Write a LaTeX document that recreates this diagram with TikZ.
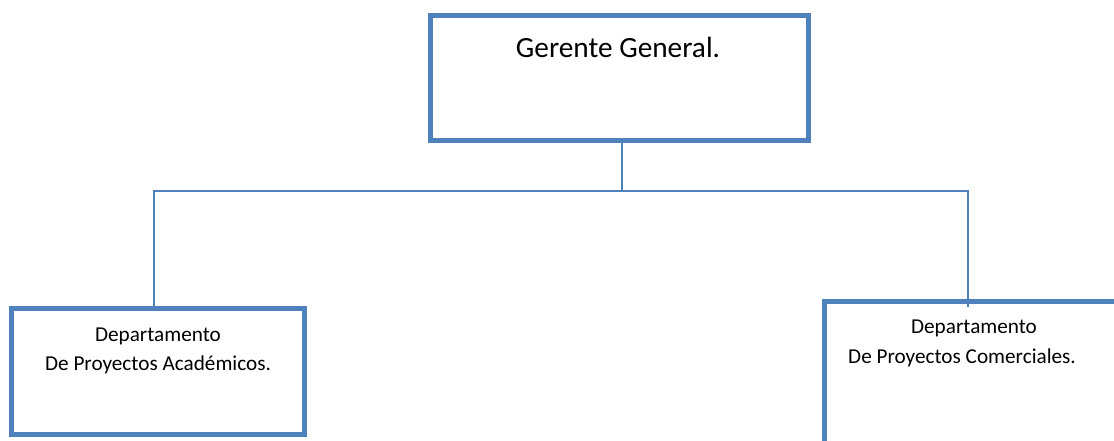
\documentclass[tikz,border=0pt]{standalone}
\usepackage{fontspec}
\setmainfont{Carlito}
\definecolor{boxblue}{HTML}{4F81BD}
\tikzset{
  orgbox/.style={draw=boxblue, line width=5pt, rectangle, inner sep=0pt},
  conn/.style={draw=boxblue, line width=1.6pt},
  bigtxt/.style={font=\fontsize{29.3}{34}\selectfont, inner sep=0pt, anchor=center},
  smalltxt/.style={font=\fontsize{21.2}{25}\selectfont, inner sep=0pt, anchor=center}
}
\begin{document}
\begin{tikzpicture}[x=1pt,y=-1pt]
\useasboundingbox (0,0) rectangle (1114,441);
\clip (0,0) rectangle (1114,441);
% boxes
\node[orgbox, minimum width=378pt, minimum height=125pt] (top) at (619.5,78) {};
\node[orgbox, minimum width=293pt, minimum height=126pt] (left) at (158,371.5) {};
\node[orgbox, minimum width=300pt, minimum height=160pt] (right) at (974.5,381.5) {};
% texts
\node[bigtxt] (ttop) at (618,47) {Gerente General.};
\node[smalltxt] (tl1) at (158,336) {Departamento};
\node[smalltxt] (tl2) at (158,365) {De Proyectos Académicos.};
\node[smalltxt] (tr1) at (974,328) {Departamento};
\node[smalltxt] (tr2) at (962,358) {De Proyectos Comerciales.};
% connectors
\coordinate (jt) at (622,140.5);
\coordinate (jm) at (622,191);
\coordinate (jl) at (154,191);
\coordinate (jr) at (968,191);
\coordinate (el) at (154,306);
\coordinate (er) at (968,307);
\draw[conn] (jt) -- (jm);
\draw[conn] (el) -- (jl) -- (jr) -- (er);
\end{tikzpicture}
\end{document}
